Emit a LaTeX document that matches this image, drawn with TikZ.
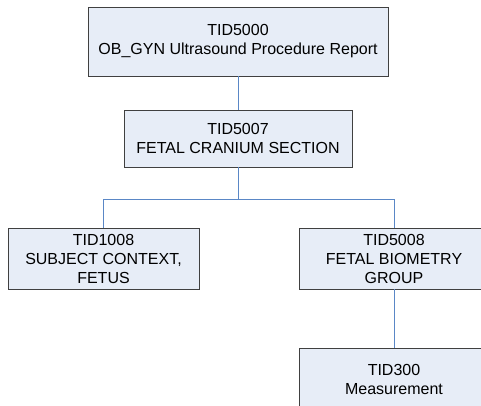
\documentclass[tikz,border=0pt]{standalone}
\usepackage{fontspec}
\setmainfont{Liberation Sans}
\definecolor{boxfill}{HTML}{E7EDF7}
\definecolor{boxline}{HTML}{404040}
\definecolor{linkline}{HTML}{5A87C6}
\begin{document}
\begin{tikzpicture}[x=1pt,y=1pt,
  tidbox/.style={draw=boxline,line width=0.9pt,fill=boxfill,rectangle,inner sep=0pt,
    align=center,font=\fontsize{16}{19}\selectfont,anchor=center},
  link/.style={draw=linkline,line width=1pt}]
\useasboundingbox (0,0) rectangle (481,-406);
\clip (0,0) rectangle (481,-406);
\node[tidbox,minimum width=300,minimum height=69] (A) at (238,-41.5) {TID5000\\OB\_GYN Ultrasound Procedure Report};
\node[tidbox,minimum width=228,minimum height=57] (B) at (238,-138.5) {TID5007\\FETAL CRANIUM SECTION};
\node[tidbox,minimum width=191,minimum height=61] (C) at (103.5,-258.5) {TID1008\\SUBJECT CONTEXT,\\FETUS};
\node[tidbox,minimum width=190,minimum height=61] (D) at (394,-258.5) {TID5008\\FETAL BIOMETRY\\GROUP};
\node[tidbox,minimum width=190,minimum height=62] (E) at (394,-379) {TID300\\Measurement};
\coordinate (bus) at (238,-199.5);
\draw[link] (A.south) -- (B.north);
\draw[link] (B.south) -- (bus);
\draw[link] (bus) -| (C.north);
\draw[link] (bus) -| (D.north);
\draw[link] (D.south) -- (E.north);
\end{tikzpicture}
\end{document}
